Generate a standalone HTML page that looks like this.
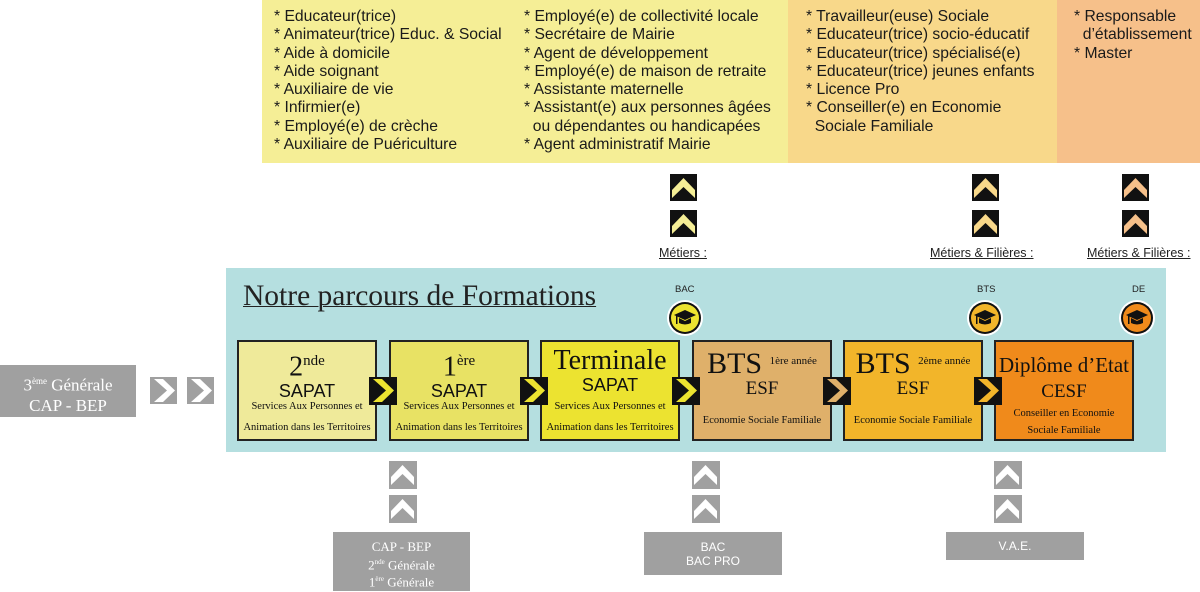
<!DOCTYPE html>
<html><head><meta charset="utf-8"><style>
*{margin:0;padding:0;box-sizing:border-box}
body{width:1200px;height:592px;position:relative;background:#fff;font-family:"Liberation Sans",sans-serif;overflow:hidden}
.a{position:absolute}
.list{position:absolute;font-size:15.7px;line-height:18.3px;color:#1a1a1a;white-space:pre;font-family:"Liberation Sans",sans-serif}
.box{position:absolute;top:340px;height:101px;width:140px;border:2px solid #222;text-align:center;font-family:"Liberation Serif",serif;color:#111}
.big{font-size:28px;line-height:28px;margin-top:5px}
.mid{font-size:18px;line-height:21px;font-family:"Liberation Sans",sans-serif}
.sm{font-size:10.5px;line-height:21px;position:absolute;left:-4px;right:-4px;bottom:1px;white-space:nowrap}
.grey{position:absolute;background:#a0a0a0;color:#fff;text-align:center;font-family:"Liberation Serif",serif}
.lab{position:absolute;font-size:12.5px;color:#222;text-decoration:underline;font-family:"Liberation Sans",sans-serif}
.t{position:absolute;font-size:9.5px;color:#222}
</style></head><body>
<div class="a" style="left:262px;top:0;width:526px;height:163px;background:#f5ee96"></div>
<div class="a" style="left:788px;top:0;width:269px;height:163px;background:#f8d88a"></div>
<div class="a" style="left:1057px;top:0;width:143px;height:163px;background:#f6c08a"></div>
<div class="list" style="left:274px;top:8px">* Educateur(trice)
* Animateur(trice) Educ. &amp; Social
* Aide à domicile
* Aide soignant
* Auxiliaire de vie
* Infirmier(e)
* Employé(e) de crèche
* Auxiliaire de Puériculture</div>
<div class="list" style="left:524px;top:8px">* Employé(e) de collectivité locale
* Secrétaire de Mairie
* Agent de développement
* Employé(e) de maison de retraite
* Assistante maternelle
* Assistant(e) aux personnes âgées
  ou dépendantes ou handicapées
* Agent administratif Mairie</div>
<div class="list" style="left:806px;top:8px">* Travailleur(euse) Sociale
* Educateur(trice) socio-éducatif
* Educateur(trice) spécialisé(e)
* Educateur(trice) jeunes enfants
* Licence Pro
* Conseiller(e) en Economie
  Sociale Familiale</div>
<div class="list" style="left:1074px;top:8px">* Responsable
  d’établissement
* Master</div>

<svg class="a" style="left:0;top:0" width="1200" height="592">
<defs>
<g id="up"><path d="M2 16 L13.5 4 L25 16 L25 24 L13.5 13 L2 24 Z"/></g>
<g id="rt"><path d="M4 2 L17 13.5 L4 25 L13 25 L25 13.5 L13 2 Z"/></g>
</defs>
<g transform="translate(670,174)"><rect width="27" height="27" fill="#111"/><use href="#up" fill="#f5ee96"/></g>
<g transform="translate(670,210)"><rect width="27" height="27" fill="#111"/><use href="#up" fill="#f5ee96"/></g>
<g transform="translate(972,174)"><rect width="27" height="27" fill="#111"/><use href="#up" fill="#f8d88a"/></g>
<g transform="translate(972,210)"><rect width="27" height="27" fill="#111"/><use href="#up" fill="#f8d88a"/></g>
<g transform="translate(1122,174)"><rect width="27" height="27" fill="#111"/><use href="#up" fill="#f6c08a"/></g>
<g transform="translate(1122,210)"><rect width="27" height="27" fill="#111"/><use href="#up" fill="#f6c08a"/></g>
<rect x="226" y="268" width="940" height="184" fill="#b5dfe0"/>
<g transform="translate(150,377)"><rect width="27" height="27" fill="#a0a0a0"/><use href="#rt" fill="#fff"/></g>
<g transform="translate(187,377)"><rect width="27" height="27" fill="#a0a0a0"/><use href="#rt" fill="#fff"/></g>
<g transform="translate(389,461)"><rect width="28" height="28" fill="#a0a0a0"/><use href="#up" fill="#fff"/></g>
<g transform="translate(389,495)"><rect width="28" height="28" fill="#a0a0a0"/><use href="#up" fill="#fff"/></g>
<g transform="translate(692,461)"><rect width="28" height="28" fill="#a0a0a0"/><use href="#up" fill="#fff"/></g>
<g transform="translate(692,495)"><rect width="28" height="28" fill="#a0a0a0"/><use href="#up" fill="#fff"/></g>
<g transform="translate(994,461)"><rect width="28" height="28" fill="#a0a0a0"/><use href="#up" fill="#fff"/></g>
<g transform="translate(994,495)"><rect width="28" height="28" fill="#a0a0a0"/><use href="#up" fill="#fff"/></g>
<g fill="#111">
<g transform="translate(685,318)"><circle r="18" fill="#fff"/><circle r="16" fill="#111"/><circle r="14" fill="#ece330"/><path d="M-11 -3 L0 -8 L11 -3 L0 2 Z"/><path d="M-6 0 L-6 5 Q0 8 6 5 L6 0 L0 3 Z"/><rect x="-9" y="-3" width="1.5" height="9"/></g>
<g transform="translate(985,318)"><circle r="18" fill="#fff"/><circle r="16" fill="#111"/><circle r="14" fill="#f2b52a"/><path d="M-11 -3 L0 -8 L11 -3 L0 2 Z"/><path d="M-6 0 L-6 5 Q0 8 6 5 L6 0 L0 3 Z"/><rect x="-9" y="-3" width="1.5" height="9"/></g>
<g transform="translate(1137,318)"><circle r="18" fill="#fff"/><circle r="16" fill="#111"/><circle r="14" fill="#f08a1b"/><path d="M-11 -3 L0 -8 L11 -3 L0 2 Z"/><path d="M-6 0 L-6 5 Q0 8 6 5 L6 0 L0 3 Z"/><rect x="-9" y="-3" width="1.5" height="9"/></g>
</g>
</svg>

<div class="lab" style="left:659px;top:246px">Métiers :</div>
<div class="lab" style="left:930px;top:246px">Métiers &amp; Filières :</div>
<div class="lab" style="left:1087px;top:246px">Métiers &amp; Filières :</div>

<div class="a" style="left:243px;top:280px;font-family:'Liberation Serif',serif;font-size:29.5px;color:#222;text-decoration:underline;text-decoration-thickness:1px">Notre parcours de Formations</div>
<div class="t" style="left:675px;top:284px">BAC</div>
<div class="t" style="left:977px;top:284px">BTS</div>
<div class="t" style="left:1132px;top:284px">DE</div>

<div class="box" style="left:237px;background:#efea9a"><div class="big">2<sup style="font-size:15px">nde</sup></div><div class="mid">SAPAT</div><div class="sm">Services Aux Personnes et<br>Animation dans les Territoires</div></div>
<div class="box" style="left:389px;background:#e8e264"><div class="big">1<sup style="font-size:15px">ère</sup></div><div class="mid">SAPAT</div><div class="sm">Services Aux Personnes et<br>Animation dans les Territoires</div></div>
<div class="box" style="left:540px;background:#ece330"><div class="big">Terminale</div><div class="mid">SAPAT</div><div class="sm">Services Aux Personnes et<br>Animation dans les Territoires</div></div>
<div class="box" style="left:692px;background:#dfb06a"><div class="big" style="font-size:30px">BTS <span style="font-size:11px;vertical-align:9px">1ère année</span></div><div class="mid" style="font-family:'Liberation Serif',serif;font-size:19px">ESF</div><div class="sm" style="bottom:8px">Economie Sociale Familiale</div></div>
<div class="box" style="left:843px;background:#f2b52a"><div class="big" style="font-size:30px">BTS <span style="font-size:11px;vertical-align:9px">2ème année</span></div><div class="mid" style="font-family:'Liberation Serif',serif;font-size:19px">ESF</div><div class="sm" style="bottom:8px">Economie Sociale Familiale</div></div>
<div class="box" style="left:994px;background:#f08a1b"><div class="big" style="font-size:21px;margin-top:9px">Diplôme d’Etat</div><div class="mid" style="font-family:'Liberation Serif',serif;font-size:19px;margin-top:2px">CESF</div><div class="sm" style="line-height:17px;bottom:0px">Conseiller en Economie<br>Sociale Familiale</div></div>

<svg class="a" style="left:0;top:0" width="1200" height="592">
<defs><g id="rt2"><path d="M4 2 L17 13.5 L4 25 L13 25 L25 13.5 L13 2 Z"/></g></defs>
<g transform="translate(369,377)"><rect width="28" height="28" fill="#111"/><use href="#rt2" fill="#ece330"/></g>
<g transform="translate(520,377)"><rect width="28" height="28" fill="#111"/><use href="#rt2" fill="#ece330"/></g>
<g transform="translate(672,377)"><rect width="28" height="28" fill="#111"/><use href="#rt2" fill="#ece330"/></g>
<g transform="translate(823,377)"><rect width="28" height="28" fill="#111"/><use href="#rt2" fill="#dfb06a"/></g>
<g transform="translate(974,377)"><rect width="28" height="28" fill="#111"/><use href="#rt2" fill="#f2b52a"/></g>
</svg>

<div class="grey" style="left:0;top:365px;width:136px;height:52px;font-size:17px;line-height:20px;padding-top:6px">3<sup style="font-size:9px">ème</sup> Générale<br>CAP - BEP</div>
<div class="grey" style="left:333px;top:532px;width:137px;height:59px;font-size:13px;line-height:15.5px;padding-top:7px">CAP - BEP<br>2<sup style="font-size:7px">nde</sup> Générale<br>1<sup style="font-size:7px">ère</sup> Générale</div>
<div class="grey" style="left:644px;top:532px;width:138px;height:43px;font-size:12px;line-height:14px;padding-top:8px;font-family:'Liberation Sans',sans-serif">BAC<br>BAC PRO</div>
<div class="grey" style="left:946px;top:532px;width:138px;height:28px;font-size:12px;line-height:28px;font-family:'Liberation Sans',sans-serif">V.A.E.</div>
</body></html>
